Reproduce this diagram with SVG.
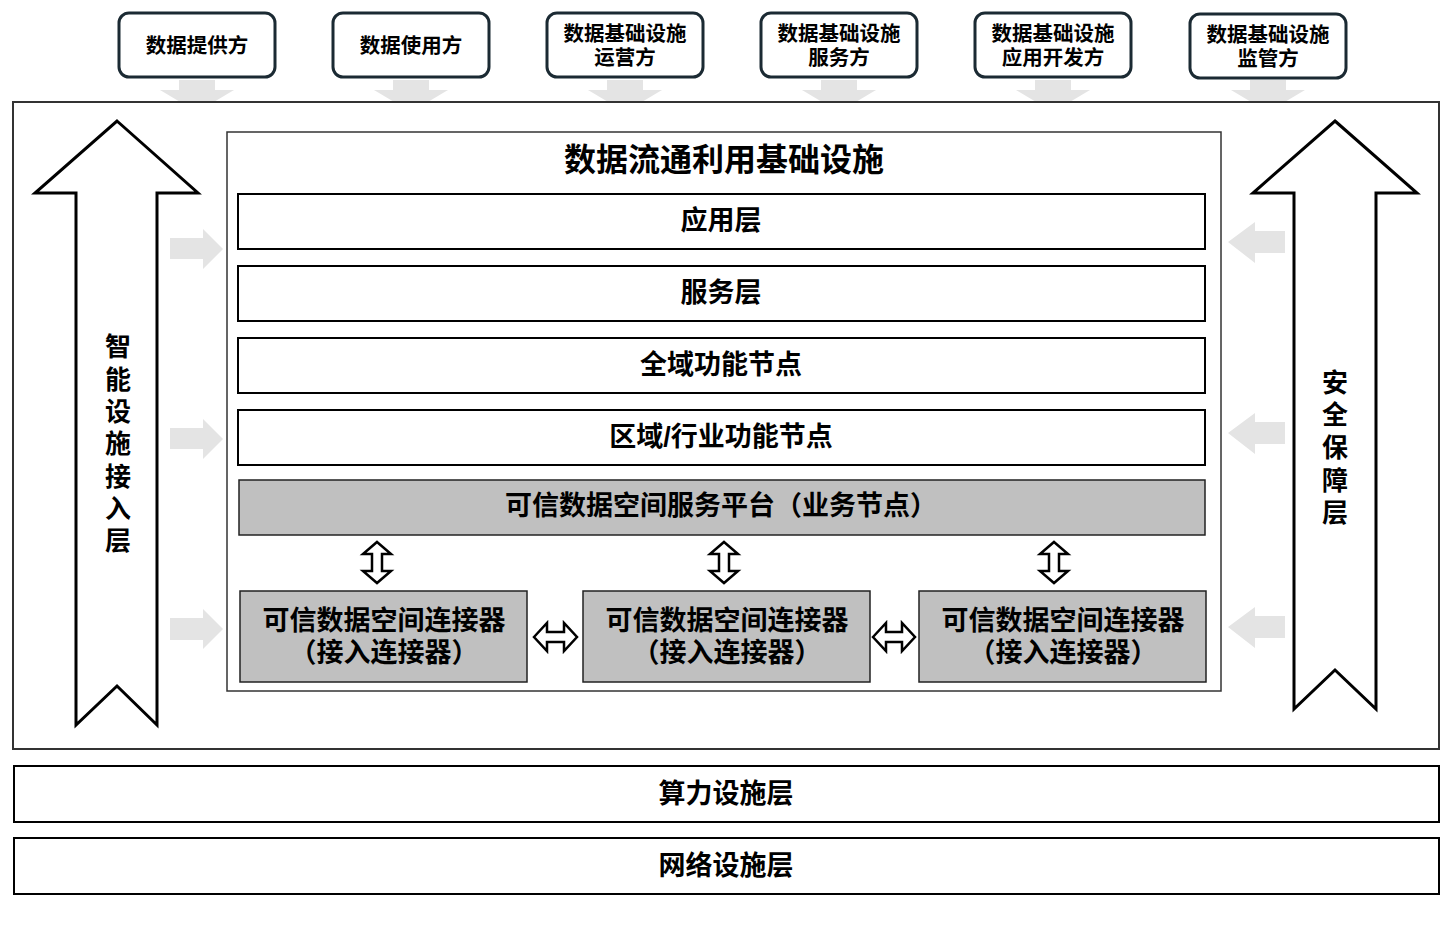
<svg xmlns="http://www.w3.org/2000/svg" width="1453" height="926" viewBox="0 0 1453 926">
<style>
text{font-family:"Liberation Sans","Noto Sans CJK SC",sans-serif;font-weight:bold;fill:#000;text-anchor:middle;dominant-baseline:central}
.party{fill:#fff;stroke:#1b2a33;stroke-width:3}
.pt{font-size:20.5px}
.layer{fill:#fff;stroke:#000;stroke-width:2}
.gray{fill:#c0c0c0;stroke:#222;stroke-width:1.5}
.lt{font-size:27px}
.ga{fill:#e4e4e4}
.big{fill:#fff;stroke:#000;stroke-width:3;stroke-linejoin:miter}
.dbl{fill:#fff;stroke:#000;stroke-width:2.5;stroke-linejoin:miter}
.side{font-size:26px}
</style>
<rect width="1453" height="926" fill="#fff"/>

<g id="party-arrows">
<path class="ga" d="M179,80 H215 V90 H234 L197,112 L160,90 H179 Z"/>
<path class="ga" d="M393,80 H429 V90 H448 L411,112 L374,90 H393 Z"/>
<path class="ga" d="M607,80 H643 V90 H662 L625,112 L588,90 H607 Z"/>
<path class="ga" d="M821,80 H857 V90 H876 L839,112 L802,90 H821 Z"/>
<path class="ga" d="M1035,80 H1071 V90 H1090 L1053,112 L1016,90 H1035 Z"/>
<path class="ga" d="M1250,80 H1286 V90 H1305 L1268,112 L1231,90 H1250 Z"/>
</g>

<g id="outer-frame">
<rect x="13" y="102" width="1426" height="647" fill="#fff" stroke="#333" stroke-width="2"/>
</g>

<g id="party-provider"><rect class="party" x="119" y="13" width="156" height="64" rx="10"/><text class="pt" x="197" y="45">数据提供方</text></g>
<g id="party-user"><rect class="party" x="333" y="13" width="156" height="64" rx="10"/><text class="pt" x="411" y="45">数据使用方</text></g>
<g id="party-operator"><rect class="party" x="547" y="13" width="156" height="64" rx="10"/><text class="pt" x="625" y="33">数据基础设施</text><text class="pt" x="625" y="57">运营方</text></g>
<g id="party-service"><rect class="party" x="761" y="13" width="156" height="64" rx="10"/><text class="pt" x="839" y="33">数据基础设施</text><text class="pt" x="839" y="57">服务方</text></g>
<g id="party-developer"><rect class="party" x="975" y="13" width="156" height="64" rx="10"/><text class="pt" x="1053" y="33">数据基础设施</text><text class="pt" x="1053" y="57">应用开发方</text></g>
<g id="party-regulator"><rect class="party" x="1190" y="14" width="156" height="64" rx="10"/><text class="pt" x="1268" y="34">数据基础设施</text><text class="pt" x="1268" y="58">监管方</text></g>

<g id="access-layer">
<path class="big" d="M117,121 L198,193 H157 V725 L117,686 L76,725 V193 H35 Z"/>
<text class="side"><tspan x="118" y="347">智</tspan><tspan x="118" y="380">能</tspan><tspan x="118" y="412">设</tspan><tspan x="118" y="444">施</tspan><tspan x="118" y="477">接</tspan><tspan x="118" y="509">入</tspan><tspan x="118" y="541">层</tspan></text>
</g>

<g id="security-layer">
<path class="big" d="M1335,121 L1417,193 H1376 V709 L1335,670 L1294,709 V193 H1253 Z"/>
<text class="side"><tspan x="1335" y="383">安</tspan><tspan x="1335" y="415">全</tspan><tspan x="1335" y="448">保</tspan><tspan x="1335" y="481">障</tspan><tspan x="1335" y="513">层</tspan></text>
</g>

<g id="side-arrows">
<path class="ga" d="M170,238 H203 V229 L223,249 L203,269 V259 H170 Z"/>
<path class="ga" d="M170,428 H203 V419 L223,439 L203,459 V449 H170 Z"/>
<path class="ga" d="M170,618 H203 V609 L223,629 L203,649 V640 H170 Z"/>
<path class="ga" d="M1285,231 H1255 V222 L1228,242 L1255,263 V253 H1285 Z"/>
<path class="ga" d="M1285,422 H1255 V413 L1228,433 L1255,454 V444 H1285 Z"/>
<path class="ga" d="M1285,616 H1255 V607 L1228,627 L1255,648 V638 H1285 Z"/>
</g>

<g id="infrastructure">
<rect x="227" y="132" width="994" height="559" fill="#fff" stroke="#333" stroke-width="1.5"/>
<text x="724" y="160" style="font-size:32px">数据流通利用基础设施</text>
</g>

<g id="app-layer"><rect class="layer" x="238" y="194" width="967" height="55"/><text class="lt" x="721" y="221">应用层</text></g>
<g id="service-layer"><rect class="layer" x="238" y="266" width="967" height="55"/><text class="lt" x="721" y="293">服务层</text></g>
<g id="global-node"><rect class="layer" x="238" y="338" width="967" height="55"/><text class="lt" x="721" y="365">全域功能节点</text></g>
<g id="regional-node"><rect class="layer" x="238" y="410" width="967" height="55"/><text class="lt" x="721" y="437">区域/行业功能节点</text></g>
<g id="platform"><rect class="gray" x="239" y="480" width="966" height="55"/><text class="lt" x="721" y="506">可信数据空间服务平台（业务节点）</text></g>

<g id="connector-1"><rect class="gray" x="240" y="591" width="287" height="91"/><text class="lt" x="384" y="621">可信数据空间连接器</text><text class="lt" x="384" y="653">（接入连接器）</text></g>
<g id="connector-2"><rect class="gray" x="583" y="591" width="287" height="91"/><text class="lt" x="727" y="621">可信数据空间连接器</text><text class="lt" x="727" y="653">（接入连接器）</text></g>
<g id="connector-3"><rect class="gray" x="919" y="591" width="287" height="91"/><text class="lt" x="1063" y="621">可信数据空间连接器</text><text class="lt" x="1063" y="653">（接入连接器）</text></g>

<g id="connectors">
<path class="dbl" d="M377,542 L391,554 H382 V571 H391 L377,583 L363,571 H372 V554 H363 Z"/>
<path class="dbl" d="M724,542 L738,554 H729 V571 H738 L724,583 L710,571 H719 V554 H710 Z"/>
<path class="dbl" d="M1054,542 L1068,554 H1059 V571 H1068 L1054,583 L1040,571 H1049 V554 H1040 Z"/>
<path class="dbl" d="M534,637 L547,623 V632 H564 V623 L577,637 L564,651 V642 H547 V651 Z"/>
<path class="dbl" d="M873,637 L886,623 V632 H902 V623 L915,637 L902,651 V642 H886 V651 Z"/>
</g>

<g id="compute-layer"><rect class="layer" x="14" y="766" width="1425" height="56"/><text class="lt" x="726" y="794">算力设施层</text></g>
<g id="network-layer"><rect class="layer" x="14" y="838" width="1425" height="56"/><text class="lt" x="726" y="866">网络设施层</text></g>
</svg>
